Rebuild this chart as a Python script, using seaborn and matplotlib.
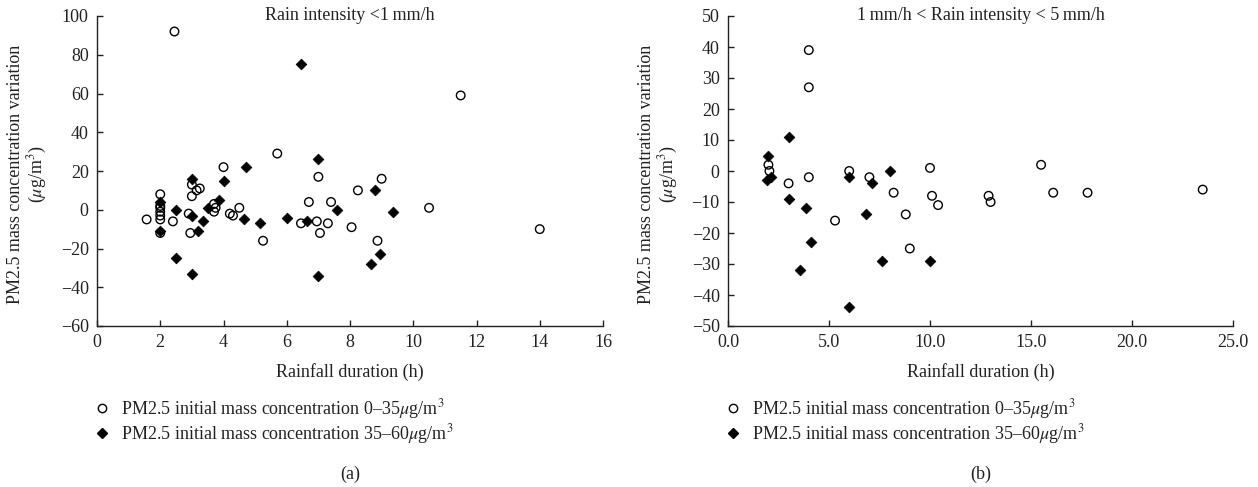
import matplotlib
matplotlib.use("Agg")
import matplotlib.pyplot as plt
import seaborn as sns
import pandas as pd
from matplotlib.lines import Line2D

# ---------------- data ----------------
# Panel (a): rain intensity < 1 mm/h
a_low_x = [1.57, 2.0, 2.0, 2.0, 2.0, 2.0, 2.0, 2.0, 2.45, 2.4, 2.9, 2.95, 3.0, 3.0,
           3.15, 3.25, 3.7, 3.75, 3.7, 4.0, 4.2, 4.3, 4.5, 5.25, 5.7, 6.45, 6.7, 7.0,
           6.95, 7.05, 7.3, 7.4, 8.05, 8.25, 8.87, 9.0, 10.5, 11.5, 14.0]
a_low_y = [-5, 8, 2, 1, -1, -3, -5, -12, 92, -6, -2, -12, 13, 7,
           10, 11, 3, 1, -1, 22, -2, -3, 1, -16, 29, -7, 4, 17,
           -6, -12, -7, 4, -9, 10, -16, 16, 1, 59, -10]
a_high_x = [2.0, 2.0, 2.5, 2.5, 3.0, 3.0, 3.0, 3.2, 3.35, 3.5, 3.85, 4.0, 4.7,
            4.65, 5.15, 6.0, 6.45, 6.65, 7.0, 7.0, 7.6, 8.65, 8.8, 8.95, 9.35]
a_high_y = [4, -11, 0, -25, 16, -3, -33, -11, -6, 1, 5, 15, 22,
            -5, -7, -4, 75, -6, 26, -34, 0, -28, 10, -23, -1]

# Panel (b): 1 mm/h < rain intensity < 5 mm/h
b_low_x = [2.0, 2.05, 3.0, 4.0, 4.0, 4.0, 5.3, 6.0, 7.0, 8.2, 8.8, 9.0, 10.0, 10.1,
           10.4, 12.9, 13.0, 15.5, 16.1, 17.8, 23.5]
b_low_y = [2, 0, -4, 39, 27, -2, -16, 0, -2, -7, -14, -25, 1, -8,
           -11, -8, -10, 2, -7, -7, -6]
b_high_x = [2.0, 1.95, 2.15, 3.0, 3.0, 3.85, 4.1, 3.55, 6.0, 6.0, 6.85, 7.15, 7.6, 8.0, 10.0]
b_high_y = [5, -3, -2, 11, -9, -12, -23, -32, -2, -44, -14, -4, -29, 0, -29]

a_xticks = [0, 2, 4, 6, 8, 10, 12, 14, 16]
a_yticks = [-60, -40, -20, 0, 20, 40, 60, 80, 100]
b_xticks = [0, 5, 10, 15, 20, 25]
b_yticks = [-50, -40, -30, -20, -10, 0, 10, 20, 30, 40, 50]

titles = ["Rain intensity <1\u2009mm/h", "1\u2009mm/h < Rain intensity < 5\u2009mm/h"]
panel_tags = ["(a)", "(b)"]
legend_labels = ["PM2.5 initial mass concentration 0\u201335$\\mu$g/m$^3$",
                 "PM2.5 initial mass concentration 35\u201360$\\mu$g/m$^3$"]
xlabel = "Rainfall duration (h)"
ylabel = "PM2.5 mass concentration variation\n($\\mu$g/m$^3$)"

# ---------------- style ----------------
sns.set_style("ticks")
plt.rcParams['font.family'] = ['Liberation Serif', 'DejaVu Serif']
plt.rcParams['mathtext.fontset'] = 'stix'
plt.rcParams['axes.unicode_minus'] = True

FS = 13
W, H = 1258, 487
fig = plt.figure(figsize=(W / 100, H / 100), dpi=100)

def px_axes(x0, x1, ytop, ybot):
    return [x0 / W, 1 - ybot / H, (x1 - x0) / W, (ybot - ytop) / H]

axa = fig.add_axes(px_axes(97, 603, 16, 326))
axb = fig.add_axes(px_axes(728, 1233, 16, 326))

panels = [
    (axa, a_low_x, a_low_y, a_high_x, a_high_y, a_xticks, a_yticks, "{:.0f}"),
    (axb, b_low_x, b_low_y, b_high_x, b_high_y, b_xticks, b_yticks, "{:.1f}"),
]

for i, (ax, lx, ly, hx, hy, xt, yt, xfmt) in enumerate(panels):
    dl = pd.DataFrame({"dur": lx, "var": ly})
    dh = pd.DataFrame({"dur": hx, "var": hy})
    sns.scatterplot(data=dh, x="dur", y="var", ax=ax, marker="D", s=30,
                    color="black", edgecolor="black", linewidth=0.5, zorder=3)
    sns.scatterplot(data=dl, x="dur", y="var", ax=ax, marker="o", s=38,
                    facecolor="none", edgecolor="black", linewidth=1.0, zorder=4)
    ax.set_xlim(xt[0], xt[-1])
    ax.set_ylim(yt[0], yt[-1])
    ax.set_xticks(xt)
    ax.set_xticklabels([xfmt.format(v) for v in xt])
    ax.set_yticks(yt)
    ax.set_yticklabels([f"{v}".replace("-", "\u2212") for v in yt])
    for s in ["top", "right"]:
        ax.spines[s].set_visible(False)
    for s in ["left", "bottom"]:
        ax.spines[s].set_color("#222222")
        ax.spines[s].set_linewidth(1.0)
    ax.tick_params(axis="both", direction="in", length=4.5, width=1.0,
                   colors="#222222", labelsize=FS, labelcolor="#222222")
    ax.tick_params(axis="x", pad=6)
    ax.tick_params(axis="y", pad=6)
    ax.set_xlabel(xlabel, fontsize=FS, color="#222222")
    ax.xaxis.label.set_va("center")
    ax.xaxis.set_label_coords(0.5, -(372 - 326) / 310)
    ax.set_ylabel(ylabel, fontsize=FS, color="#222222", linespacing=1.15)
    ax.yaxis.label.set_va("center")
    ax.yaxis.set_label_coords(-69 / 505, 0.49)
    ax.text(0.5, 1.0, titles[i], transform=ax.transAxes, ha="center", va="center",
            fontsize=FS, color="#222222")
    ax.grid(False)

    handles = [
        Line2D([], [], linestyle="none", marker="o", markersize=6, markerfacecolor="none",
               markeredgecolor="black", markeredgewidth=1.0),
        Line2D([], [], linestyle="none", marker="D", markersize=5, markerfacecolor="black",
               markeredgecolor="black"),
    ]
    lx0 = [93.4, 724.0][i]
    fig.legend(handles, legend_labels, loc="upper left",
               bbox_to_anchor=(lx0 / W, 1 - 397 / H), frameon=False,
               fontsize=FS, handlelength=1.0, handletextpad=0.55,
               labelspacing=0.05, borderpad=0, borderaxespad=0,
               labelcolor="#222222")

    cx = [350, 980.5][i]
    fig.text(cx / W, 1 - 474 / H, panel_tags[i], ha="center", va="center",
             fontsize=FS, color="#222222")

fig.savefig("out.png", dpi=100)
